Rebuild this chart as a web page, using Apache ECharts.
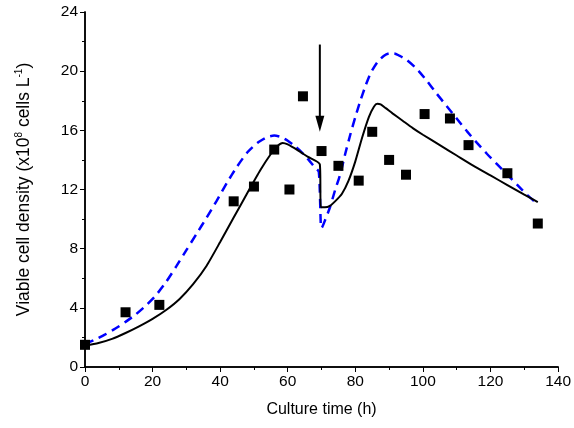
<!DOCTYPE html>
<html><head><meta charset="utf-8">
<script src="https://cdn.jsdelivr.net/npm/echarts@6/dist/echarts.min.js"></script>
<style>html,body{margin:0;padding:0;background:#fff}#c{width:574px;height:428px}</style>
</head><body><div id="c"></div>
<script>
// Measured data (culture time h, viable cell density x10^8 cells/L)
var expTime = [0, 12, 22, 44, 50, 56, 60.5, 64.5, 70, 75, 81, 85, 90, 95, 100.5, 108, 113.5, 125, 134];
var expDensity = [1.5, 3.7, 4.2, 11.2, 12.2, 14.7, 12.0, 18.3, 14.6, 13.6, 12.6, 15.9, 14.0, 13.0, 17.1, 16.8, 15.0, 13.1, 9.7];

// Model 1 (solid black)
var solidTime = [0, 4, 8, 12, 16, 20, 24, 28, 32, 36, 40, 44, 48, 52, 55, 57, 58.5, 60, 63, 66, 69.5, 69.8, 71, 72.5, 74, 76, 78, 80, 82, 84, 85.5, 86.5, 87.5, 89, 91, 94, 97, 100, 105, 110, 115, 120, 125, 130, 134];
var solidDensity = [1.45, 1.62, 1.9, 2.3, 2.75, 3.25, 3.85, 4.6, 5.6, 6.85, 8.45, 10.1, 11.75, 13.35, 14.4, 14.95, 15.15, 15.05, 14.65, 14.2, 13.7, 10.8, 10.8, 10.9, 11.2, 11.7, 12.6, 13.9, 15.5, 16.9, 17.6, 17.8, 17.75, 17.5, 17.15, 16.65, 16.15, 15.7, 15.0, 14.3, 13.6, 12.95, 12.3, 11.65, 11.15];

// Model 2 (dashed blue)
var dashTime = [0, 3, 6, 9, 12, 15, 18, 21, 24, 27, 30, 33, 36, 39, 42, 45, 48, 51, 54, 56, 58, 60, 62, 64, 66, 68, 69.2, 69.8, 70, 71, 72.5, 74, 75.5, 77, 78.5, 80, 81.5, 83, 84.6, 86.5, 88.5, 90, 91.5, 93, 95, 98, 101, 104, 107, 110, 113, 116, 119, 122, 125, 128, 131, 133];
var dashDensity = [1.55, 1.85, 2.2, 2.6, 3.05, 3.55, 4.15, 4.85, 5.75, 6.8, 7.9, 9.0, 10.1, 11.25, 12.45, 13.55, 14.5, 15.15, 15.55, 15.65, 15.55, 15.3, 14.95, 14.55, 14.05, 13.5, 13.2, 9.5, 9.4, 9.9, 10.8, 11.95, 13.0, 14.4, 15.7, 16.9, 18.0, 19.0, 19.9, 20.6, 21.05, 21.2, 21.2, 21.05, 20.8, 20.2, 19.4, 18.5, 17.65, 16.8, 15.95, 15.15, 14.4, 13.7, 13.0, 12.3, 11.6, 11.2];

// Feeding arrow annotation
var arrowTime = [69.5, 69.5];
var arrowDensity = [21.8, 16.6];
var arrowHead = [69.5, 16.45];

var xTicks = {min: 0, max: 140, interval: 20};
var yTicks = {min: 0, max: 24, interval: 4};

function zip(a, b) { return a.map(function (v, i) { return [v, b[i]]; }); }

var font = 'Liberation Sans, Arial, sans-serif';
var lineStyle = {color: '#000', width: 1.5};
function xAxis(pos, show) {
  return {
    type: 'value', position: pos, min: xTicks.min, max: xTicks.max, interval: xTicks.interval,
    axisLine: {show: true, lineStyle: lineStyle},
    axisTick: {show: true, inside: !show, length: 5, lineStyle: {color: '#000', width: 1}},
    minorTick: {show: true, splitNumber: 2, length: 3, lineStyle: {color: '#000', width: 1}},
    axisLabel: {show: show, color: '#000', fontSize: 15.5, fontFamily: font, margin: 7},
    splitLine: {show: false},
    name: show ? 'Culture time (h)' : '', nameLocation: 'middle', nameGap: 35,
    nameTextStyle: {color: '#000', fontSize: 16, fontFamily: font}
  };
}
function yAxis(pos, show) {
  return {
    type: 'value', position: pos, min: yTicks.min, max: yTicks.max, interval: yTicks.interval,
    axisLine: {show: true, lineStyle: lineStyle},
    axisTick: {show: true, inside: !show, length: 5, lineStyle: {color: '#000', width: 1}},
    minorTick: {show: true, splitNumber: 2, length: 3, lineStyle: {color: '#000', width: 1}},
    axisLabel: {show: show, color: '#000', fontSize: 15.5, fontFamily: font, margin: 7},
    splitLine: {show: false},
    name: show ? 'Viable cell density (x10{sup|8} cells L{sup|-1})' : '',
    nameLocation: 'middle', nameRotate: 90, nameGap: 51,
    nameTextStyle: {color: '#000', fontSize: 17.5, fontFamily: font, lineHeight: 20,
      rich: {sup: {fontSize: 10, fontFamily: font, color: '#000', verticalAlign: 'top', lineHeight: 12}}}
  };
}

var chart = echarts.init(document.getElementById('c'), null, {renderer: 'canvas'});
chart.setOption({
  animation: false,
  backgroundColor: '#fff',
  grid: {left: 85, right: 12, top: 12, bottom: 61, containLabel: false},
  xAxis: [xAxis('bottom', true), xAxis('top', false)],
  yAxis: [yAxis('left', true), yAxis('right', false)],
  series: [
    {type: 'line', data: zip(dashTime, dashDensity), showSymbol: false, smooth: 0.2,
      lineStyle: {color: '#0000ff', width: 2.5, type: [9, 6]}, z: 2},
    {type: 'line', data: zip(solidTime, solidDensity), showSymbol: false, smooth: 0.2,
      lineStyle: {color: '#000', width: 2}, z: 3},
    {type: 'scatter', data: zip(expTime, expDensity), symbol: 'rect', symbolSize: 10,
      itemStyle: {color: '#000', opacity: 1}, z: 4},
    {type: 'line', data: zip(arrowTime, arrowDensity), showSymbol: false,
      lineStyle: {color: '#000', width: 2}, z: 5},
    {type: 'scatter', data: [arrowHead], symbol: 'triangle', symbolRotate: 180, symbolSize: [9, 16],
      itemStyle: {color: '#000', opacity: 1}, z: 5}
  ]
});
</script>
</body></html>
